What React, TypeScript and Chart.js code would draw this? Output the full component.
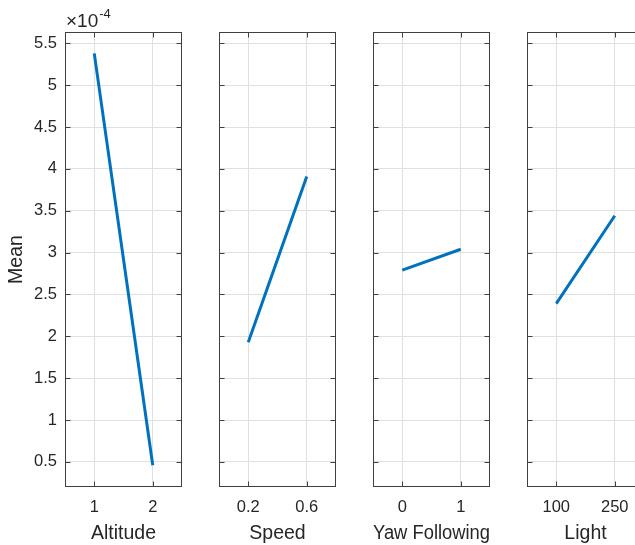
import React, { useEffect, useRef } from "react";
import { Chart, registerables } from "chart.js";

Chart.register(...registerables);

// ---- data ----
const factorNames = ["Altitude", "Speed", "Yaw Following", "Light"];
const altitudeLevels = [1, 2];
const altitudeMeans = [5.38, 0.46];
const speedLevels = [0.2, 0.6];
const speedMeans = [1.93, 3.91];
const yawLevels = [0, 1];
const yawMeans = [2.79, 3.04];
const lightLevels = [100, 250];
const lightMeans = [2.39, 3.44];
const yTicks = [0.5, 1, 1.5, 2, 2.5, 3, 3.5, 4, 4.5, 5, 5.5];
const yRange = [0.2, 5.635];
const xRanges = [
  [0.5, 2.5],
  [0, 0.8],
  [-0.5, 1.5],
  [25, 325],
];
const exponentText = "-4";
const yAxisTitle = "Mean";

const levels = [altitudeLevels, speedLevels, yawLevels, lightLevels];
const means = [altitudeMeans, speedMeans, yawMeans, lightMeans];

// ---- style ----
const FONT = "'Liberation Sans', Arial, Helvetica, sans-serif";
const TEXT = "#262626";
const FRAME = "#404040";
const GRID = "#e0e0e0";
const LINE = "#0072BD";
const PANEL_LEFTS = [65, 219, 373, 527];
const AXIS_W = 65;
const PANEL_W = 117;
const RIGHT_PAD = 20;
const TOP = 32;
const XAXIS_H = 58;
const H = 545;

const framePlugin = {
  id: "frameTicks",
  afterDraw(chart: any) {
    const { ctx, chartArea: a, scales } = chart;
    ctx.save();
    ctx.strokeStyle = FRAME;
    ctx.lineWidth = 1;
    const L = Math.round(a.left) + 0.5;
    const R = Math.round(a.right) - 0.5;
    const T = Math.round(a.top) + 0.5;
    const B = Math.round(a.bottom) - 0.5;
    ctx.strokeRect(L, T, R - L, B - T);
    const tl = 5;
    ctx.beginPath();
    scales.x.ticks.forEach((t: any) => {
      const px = Math.round(scales.x.getPixelForValue(t.value)) + 0.5;
      ctx.moveTo(px, B);
      ctx.lineTo(px, B - tl);
      ctx.moveTo(px, T);
      ctx.lineTo(px, T + tl);
    });
    scales.y.ticks.forEach((t: any) => {
      const py = Math.round(scales.y.getPixelForValue(t.value)) + 0.5;
      ctx.moveTo(L, py);
      ctx.lineTo(L + tl, py);
      ctx.moveTo(R, py);
      ctx.lineTo(R - tl, py);
    });
    ctx.stroke();

    if (chart.options.plugins.frameTicks?.exponent) {
      ctx.fillStyle = TEXT;
      ctx.textBaseline = "alphabetic";
      ctx.textAlign = "left";
      ctx.font = `19px ${FONT}`;
      const base = "\u00d710";
      ctx.fillText(base, a.left + 1, 27);
      const w = ctx.measureText(base).width;
      ctx.font = `13px ${FONT}`;
      ctx.fillText(exponentText, a.left + 1 + w + 1, 17.5);
    }
    ctx.restore();
  },
};

function Panel({ index }: { index: number }) {
  const ref = useRef<HTMLCanvasElement>(null);
  useEffect(() => {
    if (!ref.current) return;
    const first = index === 0;
    const chart = new Chart(ref.current, {
      type: "line",
      data: {
        datasets: [
          {
            data: levels[index].map((x, i) => ({ x, y: means[index][i] })),
            borderColor: LINE,
            borderWidth: 3,
            pointRadius: 0,
            fill: false,
            tension: 0,
          },
        ],
      },
      options: {
        animation: false,
        responsive: false,
        devicePixelRatio: 1,
        layout: { padding: { top: TOP, right: RIGHT_PAD, left: 0, bottom: 0 } },
        plugins: {
          legend: { display: false },
          tooltip: { enabled: false },
          frameTicks: { exponent: first },
        } as any,
        scales: {
          x: {
            type: "linear",
            min: xRanges[index][0],
            max: xRanges[index][1],
            afterBuildTicks: (s: any) => {
              s.ticks = levels[index].map((v) => ({ value: v }));
            },
            afterFit: (s: any) => {
              s.height = XAXIS_H;
            },
            grid: { color: GRID, drawTicks: false, lineWidth: 1 },
            border: { display: false },
            ticks: {
              color: TEXT,
              font: { family: FONT, size: 16.5 },
              padding: 11,
              maxRotation: 0,
              callback: (v: any) => String(v),
            },
            title: {
              display: true,
              text: factorNames[index],
              color: TEXT,
              font: { family: FONT, size: 19.5 },
              padding: { top: 0, bottom: 0 },
            },
          },
          y: {
            type: "linear",
            min: yRange[0],
            max: yRange[1],
            afterBuildTicks: (s: any) => {
              s.ticks = yTicks.map((v) => ({ value: v }));
            },
            afterFit: (s: any) => {
              s.width = AXIS_W;
            },
            grid: { color: GRID, drawTicks: false, lineWidth: 1 },
            border: { display: false },
            ticks: {
              display: first,
              color: TEXT,
              font: { family: FONT, size: 16.5 },
              padding: 8,
              callback: (v: any) => String(v),
            },
            title: {
              display: first,
              text: yAxisTitle,
              color: TEXT,
              font: { family: FONT, size: 19.5 },
              padding: { top: 5, bottom: 0 },
            },
          },
        },
      },
      plugins: [framePlugin],
    });
    return () => chart.destroy();
  }, [index]);
  const w = AXIS_W + PANEL_W + RIGHT_PAD;
  return (
    <canvas
      ref={ref}
      width={w}
      height={H}
      style={{
        position: "absolute",
        left: PANEL_LEFTS[index] - AXIS_W,
        top: 0,
        width: w,
        height: H,
      }}
    />
  );
}

export default function App() {
  return (
    <div
      style={{
        position: "absolute",
        left: 0,
        top: 0,
        width: 635,
        height: 545,
        overflow: "hidden",
        background: "#ffffff",
      }}
    >
      {factorNames.map((_, i) => (
        <Panel key={i} index={i} />
      ))}
    </div>
  );
}
